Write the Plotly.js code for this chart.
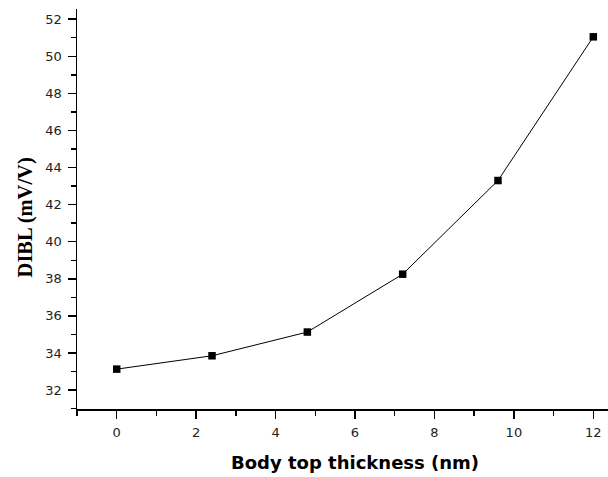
<!DOCTYPE html>
<html>
<head>
<meta charset="utf-8">
<script src="https://cdn.plot.ly/plotly-3.0.1.min.js"></script>
<style>html,body{margin:0;padding:0;background:#fff;}#chart{width:608px;height:477px;}</style>
</head>
<body>
<div id="chart"></div>
<script>
const thickness = [0, 2.4, 4.8, 7.2, 9.6, 12];
const dibl = [33.13, 33.85, 35.13, 38.25, 43.3, 51.05];
const xTitle = "Body top thickness (nm)";
const yTitle = "DIBL (mV/V)";

const trace = {
  x: thickness,
  y: dibl,
  type: "scatter",
  mode: "lines+markers",
  line: {color: "#000", width: 1},
  marker: {symbol: "square", size: 7.5, color: "#000"},
  showlegend: false,
  cliponaxis: false
};

const axisCommon = {
  showgrid: false,
  zeroline: false,
  showline: true,
  linecolor: "#000",
  linewidth: 1.5,
  ticks: "outside",
  ticklen: 8,
  tickwidth: 1.5,
  tickcolor: "#000",
  tickfont: {family: "DejaVu Sans, sans-serif", size: 13, color: "#222"}
};

const layout = {
  width: 608, height: 477,
  margin: {l: 77, r: 0, t: 9, b: 68},
  paper_bgcolor: "#fff",
  plot_bgcolor: "#fff",
  xaxis: Object.assign({}, axisCommon, {
    range: [-1.0, 12.37],
    dtick: 2, tick0: 0,
    ticklabelstandoff: 3,
    minor: {dtick: 1, tick0: 0, ticks: "outside", ticklen: 5, tickwidth: 1.5, tickcolor: "#000", showgrid: false}
  }),
  yaxis: Object.assign({}, axisCommon, {
    range: [30.98, 52.55],
    dtick: 2, tick0: 0,
    ticklabelstandoff: 3,
    minor: {dtick: 1, tick0: 0, ticks: "outside", ticklen: 5, tickwidth: 1.5, tickcolor: "#000", showgrid: false}
  }),
  annotations: [
    {text: xTitle, xref: "paper", yref: "paper", x: 0.5235, y: -0.134, xanchor: "center", yanchor: "middle",
     showarrow: false, font: {family: "DejaVu Sans, sans-serif", size: 18, color: "#000", weight: "bold"}},
    {text: yTitle, xref: "paper", yref: "paper", x: -0.0979, y: 0.479, xanchor: "center", yanchor: "middle",
     textangle: -90, showarrow: false, font: {family: "Liberation Serif, Times New Roman, serif", size: 20.5, color: "#000", weight: "bold"}}
  ]
};

Plotly.newPlot("chart", [trace], layout, {displayModeBar: false, staticPlot: true});
</script>
</body>
</html>
